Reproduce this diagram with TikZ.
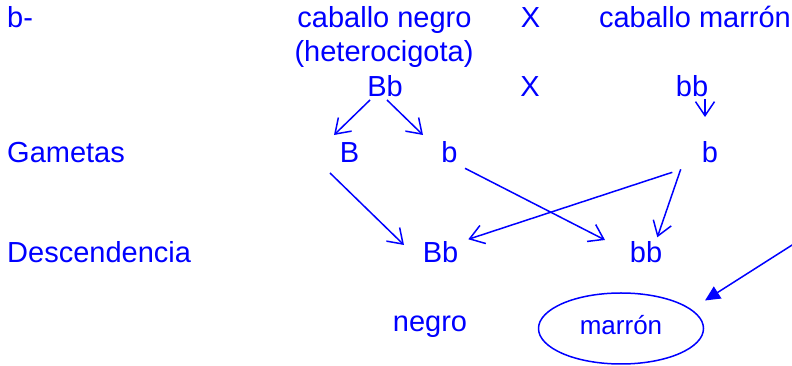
\documentclass[tikz,border=0pt]{standalone}
\usepackage{fontspec}
\setmainfont{Liberation Sans}
\usepackage{tikz}
\usetikzlibrary{arrows.meta, shapes.geometric}

\begin{document}
\begin{tikzpicture}[
      x=1pt, y=1pt,
      txt/.style={
        text=blue,
        inner sep=0pt,
        anchor=base,
        font=\fontsize{29}{33}\selectfont
      },
      rowname/.style={
        txt,
        anchor=base west
      },
      oval/.style={
        ellipse,
        draw=blue,
        line width=1.5pt,
        minimum width=165pt,
        minimum height=71pt,
        inner sep=0pt,
        text=blue,
        text height=13pt,
        text depth=0pt,
        font=\fontsize{26}{30}\selectfont
      },
      arrow/.style={
        draw=blue,
        line width=1.5pt,
        -{Straight Barb[length=14pt,width=19pt]}
      },
      fillarrow/.style={
        draw=blue,
        line width=1.5pt,
        -{Triangle[length=15pt,width=14pt]},
        fill=blue
      }
    ]

    \useasboundingbox (0,0) rectangle (792,366);

    % parents
    \node[rowname] (bdash) at (7,338) {b-};
    \node[txt] (cabNegro) at (384.5,338) {caballo negro};
    \node[txt] (hetero) at (384,304) {(heterocigota)};
    \node[txt] (cruz1) at (530.5,338) {X};
    \node[txt] (cabMarron) at (695,338) {caballo marrón};

    \node[txt] (genNegro) at (385,269) {Bb};
    \node[txt] (cruz2) at (530,269) {X};
    \node[txt] (genMarron) at (692,269) {bb};

    % gametes
    \node[rowname] (gametas) at (7,203) {Gametas};
    \node[txt] (gamB) at (349.5,203) {B};
    \node[txt] (gamb) at (449.5,203) {b};
    \node[txt] (gambM) at (710,203) {b};

    % offspring
    \node[rowname] (descend) at (7,103) {Descendencia};
    \node[txt] (hijoBb) at (440.5,103) {Bb};
    \node[txt] (hijobb) at (646,103) {bb};

    \node[txt] (negro) at (430,34) {negro};
    \node[oval] (marron) at (621,37.5) {marrón};

    \coordinate (bbtip) at (705,249);
    \coordinate (edge) at (800,126);

    \draw[arrow] ([shift={(-15,-3)}]genNegro.base) -- ([shift={(-15.5,28)}]gamB.base);
    \draw[arrow] ([shift={(2,-3)}]genNegro.base) -- ([shift={(-26.5,28)}]gamb.base);
    \draw[arrow] ([shift={(13,-2)}]genMarron.base) -- (bbtip);

    \draw[arrow] ([shift={(-19.5,-10)}]gamB.base) -- ([shift={(-36.5,18)}]hijoBb.base);
    \draw[arrow] ([shift={(15.5,-5.3)}]gamb.base) -- ([shift={(-41,23)}]hijobb.base);
    \draw[arrow] ([shift={(-37.7,-9.3)}]gambM.base) -- ([shift={(27.8,23.7)}]hijoBb.base);
    \draw[arrow] ([shift={(-29.3,-6.3)}]gambM.base) -- ([shift={(11.3,25.7)}]hijobb.base);

    \draw[fillarrow] (edge) -- ([shift={(84,28)}]marron.center);

\end{tikzpicture}
\end{document}
